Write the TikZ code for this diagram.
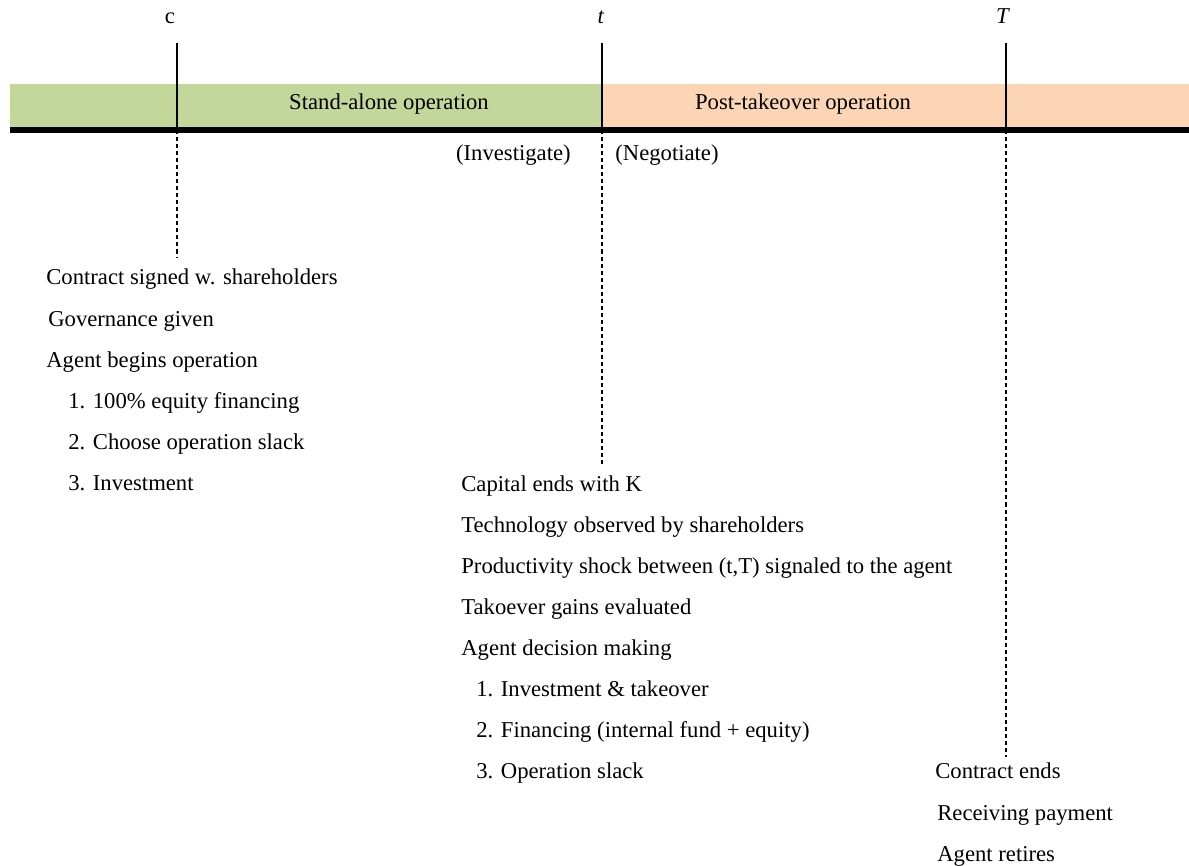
\documentclass[tikz,border=0pt]{standalone}
\usepackage{fontspec}
\setmainfont{Liberation Serif}
\usetikzlibrary{positioning}
\definecolor{bandGreen}{HTML}{C4D79B}
\definecolor{bandOrange}{HTML}{FCD5B4}
\tikzset{
  tickline/.style={black, line width=1.1pt},
  dropline/.style={black, line width=0.7pt, dash pattern=on 2.3pt off 1.7pt},
  axisbar/.style={black, line width=3.4pt},
  evt/.style={anchor=base west, inner sep=0pt, font=\fontsize{12.9}{15}\selectfont},
  timelbl/.style={anchor=base, inner sep=0pt, font=\fontsize{12.9}{15}\selectfont},
}

\begin{document}
\begin{tikzpicture}[x=0.02cm, y=-0.02cm]
    \useasboundingbox (0,0) rectangle (1189,865);
    % phases
    \fill[bandGreen]  (10,84) rectangle (602,130);
    \fill[bandOrange] (602,84) rectangle (1189,130);
    \node[timelbl] (standalone) at (389,110) {Stand-alone operation};
    \node[timelbl] (posttake)   at (803,110) {Post-takeover operation};
    % time marks
    \node[timelbl] (lc) at (170,24) {c};
    \node[timelbl] (lt) at (601,24) {\textit{t}};
    \node[timelbl] (lT) at (1003,24) {\textit{T}};
    \coordinate (cTop) at (177,43);  \coordinate (cBar) at (177,130);  \coordinate (cEnd) at (177,258);
    \coordinate (tTop) at (602,43);  \coordinate (tBar) at (602,130);  \coordinate (tEnd) at (602,465);
    \coordinate (TTop) at (1006,43); \coordinate (TBar) at (1006,130); \coordinate (TEnd) at (1006,757);
    \coordinate (axL) at (10,130);   \coordinate (axR) at (1189,130);
    \draw[tickline] (cTop) -- (cBar);
    \draw[tickline] (tTop) -- (tBar);
    \draw[tickline] (TTop) -- (TBar);
    \draw[axisbar] (axL) -- (axR);
    \draw[dropline] (cBar) -- (cEnd);
    \draw[dropline] (tBar) -- (tEnd);
    \draw[dropline] (TBar) -- (TEnd);
    \node[evt, anchor=base east] (invest) at (571,160) {(Investigate)};
    \node[evt] (negot) at (615,160) {(Negotiate)};
    % at c
    \node[evt] (csign)  at (46,284) {Contract signed w. shareholders};
    \node[evt] (cgov)   at (48,326) {Governance given};
    \node[evt] (cbegin) at (46,367) {Agent begins operation};
    \node[evt] (cone)   at (68,408) {1. 100\% equity financing};
    \node[evt] (ctwo)   at (68,449) {2. Choose operation slack};
    \node[evt] (cthree) at (68,490) {3. Investment};
    % at t
    \node[evt] (tcap)   at (461,491) {Capital ends with K};
    \node[evt] (ttech)  at (461,532) {Technology observed by shareholders};
    \node[evt] (tshock) at (461,573) {Productivity shock between (t,T) signaled to the agent};
    \node[evt] (tgain)  at (461,614) {Takoever gains evaluated};
    \node[evt] (tdec)   at (461,655) {Agent decision making};
    \node[evt] (tone)   at (476,696) {1. Investment \& takeover};
    \node[evt] (ttwo)   at (476,737) {2. Financing (internal fund + equity)};
    \node[evt] (tthree) at (476,778) {3. Operation slack};
    % at T
    \node[evt] (Tend) at (935,778) {Contract ends};
    \node[evt] (Tpay) at (937,820) {Receiving payment};
    \node[evt] (Tret) at (937,861) {Agent retires};
\end{tikzpicture}
\end{document}
